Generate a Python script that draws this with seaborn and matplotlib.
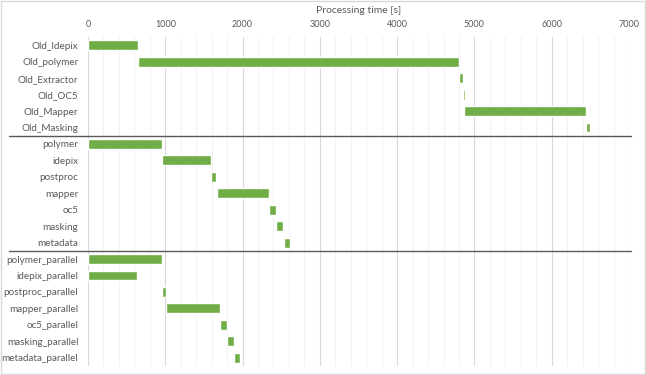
import pandas as pd
import matplotlib.pyplot as plt
import seaborn as sns
from matplotlib.patches import Rectangle

# Gantt-style processing timeline (seconds)
tasks = ['Old_Idepix', 'Old_polymer', 'Old_Extractor', 'Old_OC5', 'Old_Mapper', 'Old_Masking',
         'polymer', 'idepix', 'postproc', 'mapper', 'oc5', 'masking', 'metadata',
         'polymer_parallel', 'idepix_parallel', 'postproc_parallel', 'mapper_parallel',
         'oc5_parallel', 'masking_parallel', 'metadata_parallel']
start = [0, 651, 4794, 4855, 4868, 6447,
         0, 954, 1592, 1666, 2348, 2438, 2533,
         0, 0, 958, 1014, 1709, 1800, 1894]
end = [651, 4794, 4851, 4872, 6444, 6499,
       954, 1592, 1661, 2348, 2438, 2529, 2611,
       954, 634, 1010, 1709, 1800, 1890, 1972]
group_breaks = [5.5, 12.5]

df = pd.DataFrame({'task': tasks, 'start': start, 'end': end})
df['duration'] = df['end'] - df['start']

sns.set_theme(style='white')
plt.rcParams['font.family'] = ['Lato', 'DejaVu Sans']
text_col = '#595959'

fig = plt.figure(figsize=(6.46, 3.75), dpi=100)
ax = fig.add_axes([0.1362, 0.024, 0.8375, 0.8773])

sns.barplot(data=df, y='task', x='duration', color='#70AD47', saturation=1,
            width=0.6, ax=ax, zorder=3)
# shift each bar to its start time
for p, s in zip(ax.patches, df['start']):
    p.set_x(s)

ax.set_xlim(0, 7000)
ax.set_xticks(range(0, 7001, 1000))
ax.set_xticks(range(0, 7001, 200), minor=True)
ax.xaxis.tick_top()
ax.xaxis.set_label_position('top')
ax.set_xlabel('Processing time [s]', fontsize=7.5, color=text_col, labelpad=5)
ax.set_ylabel('')
ax.tick_params(axis='x', which='both', length=0, labelsize=6.5, labelcolor=text_col, pad=6)
ax.tick_params(axis='y', length=0, labelsize=7.1, labelcolor=text_col, pad=7)

ax.grid(axis='x', which='major', color='#D9D9D9', linewidth=0.8, zorder=0)
ax.grid(axis='x', which='minor', color='#F2F2F2', linewidth=0.8, zorder=0)
ax.set_axisbelow(True)
for sp in ax.spines.values():
    sp.set_visible(False)

for yb in group_breaks:
    ax.axhline(yb, xmin=-0.146, xmax=1.004, color='#595959', linewidth=1.0,
               clip_on=False, zorder=4)

fig.patches.append(Rectangle((0.001, 0.004), 0.997, 0.994, transform=fig.transFigure,
                             fill=False, edgecolor='#D9D9D9', linewidth=1.0))

plt.savefig('out.png', dpi=100)
